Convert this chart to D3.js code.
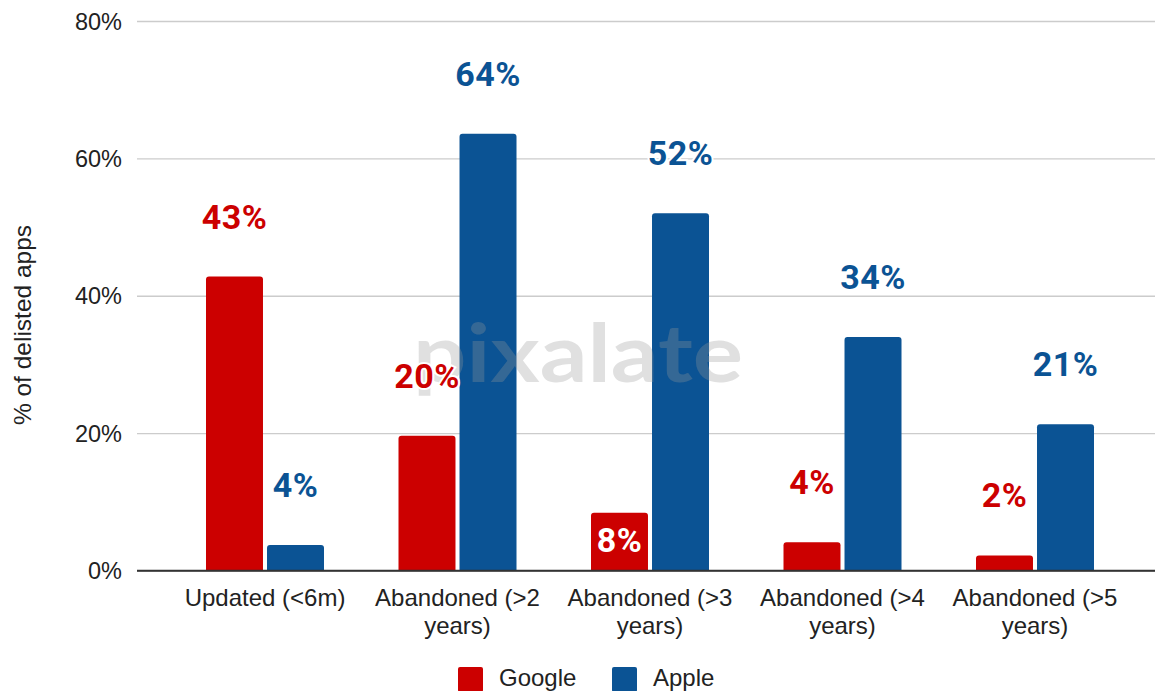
<!DOCTYPE html>
<html>
<head>
<meta charset="utf-8">
<script src="https://cdn.jsdelivr.net/npm/d3@7/dist/d3.min.js"></script>
<style>
  html, body { margin: 0; padding: 0; background: #fff; }
  svg { display: block; }
</style>
</head>
<body>
<svg id="chart" width="1155" height="691"></svg>
<script>
// ---- data ----
const categories = [
  ["Updated (<6m)"],
  ["Abandoned (>2", "years)"],
  ["Abandoned (>3", "years)"],
  ["Abandoned (>4", "years)"],
  ["Abandoned (>5", "years)"]
];
const seriesNames = ["Google", "Apple"];
const googleValues = [42.8, 19.6, 8.4, 4.1, 2.2];
const appleValues = [3.7, 63.6, 52.0, 34.0, 21.3];
const yTicks = [0, 20, 40, 60, 80];
const colors = ["#cc0000", "#0b5394"];

// ---- layout ----
const W = 1155, H = 691;
const gridLeft = 137, gridRight = 1155;
const svg = d3.select("#chart");
const FONT = "'Liberation Sans', Arial, sans-serif";
const LABELFONT = "Roboto, 'Liberation Sans', Arial, sans-serif";

const y = d3.scaleLinear().domain([0, 80]).range([570.5, 21]);
const x0 = d3.scaleBand()
  .domain(d3.range(categories.length))
  .range([168.75, 1131.25])
  .paddingInner(0.387)
  .paddingOuter(0.1935);
const x1 = d3.scaleBand()
  .domain(seriesNames)
  .range([0, x0.bandwidth()])
  .paddingInner(0.066);

const rows = categories.map((c, i) => ({ i, label: c, vals: [googleValues[i], appleValues[i]] }));

// gridlines
const yAxis = d3.axisLeft(y).tickValues(yTicks).tickFormat(d => d + "%").tickSize(0).tickPadding(0);
const gAxis = svg.append("g").attr("transform", `translate(${gridLeft},0)`).call(yAxis);
gAxis.select(".domain").remove();
gAxis.selectAll(".tick line")
  .attr("x1", 0).attr("x2", gridRight - gridLeft)
  .attr("stroke", d => d === 0 ? "#333" : "#cccccc")
  .attr("stroke-width", d => d === 0 ? 1.5 : 1.3);
gAxis.selectAll(".tick text")
  .attr("x", -15)
  .attr("dy", "0.35em")
  .attr("fill", "#222")
  .style("font-family", FONT)
  .style("font-size", "23.5px");

// bars
function barPath(x, yTop, w, h, r) {
  r = Math.min(r, h, w / 2);
  return `M${x},${yTop + h} L${x},${yTop + r} Q${x},${yTop} ${x + r},${yTop} L${x + w - r},${yTop} Q${x + w},${yTop} ${x + w},${yTop + r} L${x + w},${yTop + h} Z`;
}
const groups = svg.append("g").selectAll("g").data(rows).join("g")
  .attr("transform", d => `translate(${x0(d.i)},0)`);
groups.selectAll("path").data(d => d.vals.map((v, s) => ({ v, s, i: d.i }))).join("path")
  .attr("d", d => barPath(x1(seriesNames[d.s]), y(d.v), x1.bandwidth(), y(0) - y(d.v), 3))
  .attr("fill", d => colors[d.s]);

// baseline redraw on top
svg.append("line").attr("x1", gridLeft).attr("x2", gridRight)
  .attr("y1", y(0)).attr("y2", y(0)).attr("stroke", "#333").attr("stroke-width", 1.5);

// watermark
svg.append("text")
  .attr("x", 413).attr("y", 382)
  .attr("textLength", 330).attr("lengthAdjust", "spacingAndGlyphs")
  .style("font-family", "Lato, 'Open Sans', sans-serif")
  .style("font-weight", 700)
  .style("font-size", "80px")
  .attr("fill", "#999").attr("fill-opacity", 0.3)
  .text("pixalate");

// value labels
const labelData = [];
rows.forEach(r => r.vals.forEach((v, s) => labelData.push({ i: r.i, s, v })));
const isInside = d => d.s === 0 && y(0) - y(d.v) > 40 && y(0) - y(d.v) < 70;
svg.append("g").selectAll("text").data(labelData).join("text")
  .attr("x", d => x0(d.i) + x1(seriesNames[d.s]) + x1.bandwidth() / 2)
  .attr("y", d => isInside(d) ? y(0) - 19 : y(d.v) - 48)
  .attr("text-anchor", "middle")
  .attr("fill", d => isInside(d) ? "#fff" : colors[d.s])
  .attr("stroke", d => isInside(d) ? "none" : "#fff")
  .attr("stroke-width", 4)
  .attr("paint-order", "stroke")
  .style("font-family", LABELFONT)
  .style("font-weight", 700)
  .style("font-size", "34px")
  .style("letter-spacing", "0.5px")
  .text(d => Math.round(d.v) + "%");

// x labels
const xl = svg.append("g").selectAll("text").data(rows).join("text")
  .attr("x", d => x0(d.i) + x0.bandwidth() / 2)
  .attr("y", 606)
  .attr("text-anchor", "middle")
  .attr("fill", "#222")
  .style("font-family", FONT)
  .style("font-size", "24px");
xl.selectAll("tspan").data(d => d.label).join("tspan")
  .attr("x", function () { return d3.select(this.parentNode).attr("x"); })
  .attr("dy", (d, k) => k === 0 ? 0 : 28)
  .text(d => d);

// y title
svg.append("text")
  .attr("transform", "translate(31,325) rotate(-90)")
  .attr("text-anchor", "middle")
  .attr("fill", "#222")
  .style("font-family", FONT)
  .style("font-size", "24.5px")
  .text("% of delisted apps");

// legend
const legendX = [458, 612];
const leg = svg.append("g").selectAll("g").data(seriesNames).join("g")
  .attr("transform", (d, k) => `translate(${legendX[k]},667)`);
leg.append("rect").attr("width", 25).attr("height", 25).attr("rx", 2).attr("fill", (d, k) => colors[k]);
leg.append("text").attr("x", 41).attr("y", 19)
  .attr("fill", "#222")
  .style("font-family", FONT)
  .style("font-size", "24px")
  .text(d => d);
</script>
</body>
</html>
